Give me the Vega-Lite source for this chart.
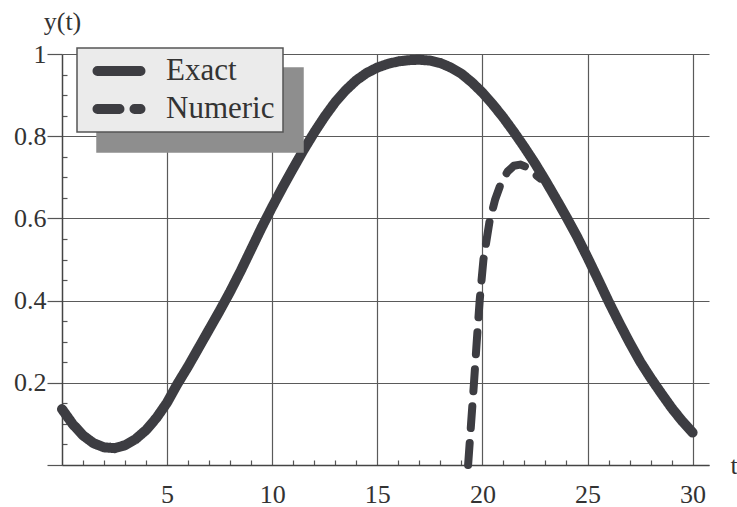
{
  "$schema": "https://vega.github.io/schema/vega-lite/v6.json",
  "width": 647,
  "height": 411,
  "autosize": {"type": "none"},
  "padding": {"left": 62, "top": 54, "right": 28, "bottom": 42},
  "background": "#ffffff",
  "config": {
    "view": {"stroke": null},
    "legend": {"strokeWidth": 1.5},
    "axis": {"labelFont": "Liberation Serif", "titleFont": "Liberation Serif"}
  },
  "datasets": {
    "curves": [
      {"t": 0, "y": 0.136, "series": "Exact"},
      {"t": 0.5, "y": 0.100, "series": "Exact"},
      {"t": 1, "y": 0.072, "series": "Exact"},
      {"t": 1.5, "y": 0.053, "series": "Exact"},
      {"t": 2, "y": 0.043, "series": "Exact"},
      {"t": 2.5, "y": 0.041, "series": "Exact"},
      {"t": 3, "y": 0.048, "series": "Exact"},
      {"t": 3.5, "y": 0.063, "series": "Exact"},
      {"t": 4, "y": 0.085, "series": "Exact"},
      {"t": 4.5, "y": 0.115, "series": "Exact"},
      {"t": 5, "y": 0.152, "series": "Exact"},
      {"t": 5.5, "y": 0.198, "series": "Exact"},
      {"t": 6, "y": 0.240, "series": "Exact"},
      {"t": 6.5, "y": 0.285, "series": "Exact"},
      {"t": 7, "y": 0.330, "series": "Exact"},
      {"t": 7.5, "y": 0.375, "series": "Exact"},
      {"t": 8, "y": 0.422, "series": "Exact"},
      {"t": 8.5, "y": 0.472, "series": "Exact"},
      {"t": 9, "y": 0.525, "series": "Exact"},
      {"t": 9.5, "y": 0.578, "series": "Exact"},
      {"t": 10, "y": 0.628, "series": "Exact"},
      {"t": 10.5, "y": 0.676, "series": "Exact"},
      {"t": 11, "y": 0.722, "series": "Exact"},
      {"t": 11.5, "y": 0.767, "series": "Exact"},
      {"t": 12, "y": 0.809, "series": "Exact"},
      {"t": 12.5, "y": 0.848, "series": "Exact"},
      {"t": 13, "y": 0.883, "series": "Exact"},
      {"t": 13.5, "y": 0.912, "series": "Exact"},
      {"t": 14, "y": 0.936, "series": "Exact"},
      {"t": 14.5, "y": 0.954, "series": "Exact"},
      {"t": 15, "y": 0.967, "series": "Exact"},
      {"t": 15.5, "y": 0.976, "series": "Exact"},
      {"t": 16, "y": 0.982, "series": "Exact"},
      {"t": 16.5, "y": 0.985, "series": "Exact"},
      {"t": 17, "y": 0.986, "series": "Exact"},
      {"t": 17.5, "y": 0.984, "series": "Exact"},
      {"t": 18, "y": 0.978, "series": "Exact"},
      {"t": 18.5, "y": 0.967, "series": "Exact"},
      {"t": 19, "y": 0.952, "series": "Exact"},
      {"t": 19.5, "y": 0.931, "series": "Exact"},
      {"t": 20, "y": 0.906, "series": "Exact"},
      {"t": 20.5, "y": 0.877, "series": "Exact"},
      {"t": 21, "y": 0.845, "series": "Exact"},
      {"t": 21.5, "y": 0.810, "series": "Exact"},
      {"t": 22, "y": 0.773, "series": "Exact"},
      {"t": 22.5, "y": 0.734, "series": "Exact"},
      {"t": 23, "y": 0.692, "series": "Exact"},
      {"t": 23.5, "y": 0.648, "series": "Exact"},
      {"t": 24, "y": 0.603, "series": "Exact"},
      {"t": 24.5, "y": 0.556, "series": "Exact"},
      {"t": 25, "y": 0.505, "series": "Exact"},
      {"t": 25.5, "y": 0.452, "series": "Exact"},
      {"t": 26, "y": 0.398, "series": "Exact"},
      {"t": 26.5, "y": 0.347, "series": "Exact"},
      {"t": 27, "y": 0.298, "series": "Exact"},
      {"t": 27.5, "y": 0.252, "series": "Exact"},
      {"t": 28, "y": 0.212, "series": "Exact"},
      {"t": 28.5, "y": 0.175, "series": "Exact"},
      {"t": 29, "y": 0.139, "series": "Exact"},
      {"t": 29.5, "y": 0.107, "series": "Exact"},
      {"t": 30, "y": 0.079, "series": "Exact"},
      {"t": 19.32, "y": 0.0, "series": "Numeric"},
      {"t": 19.46, "y": 0.1, "series": "Numeric"},
      {"t": 19.6, "y": 0.2, "series": "Numeric"},
      {"t": 19.73, "y": 0.3, "series": "Numeric"},
      {"t": 19.87, "y": 0.4, "series": "Numeric"},
      {"t": 20.05, "y": 0.5, "series": "Numeric"},
      {"t": 20.33, "y": 0.59, "series": "Numeric"},
      {"t": 20.6, "y": 0.645, "series": "Numeric"},
      {"t": 20.9, "y": 0.688, "series": "Numeric"},
      {"t": 21.2, "y": 0.714, "series": "Numeric"},
      {"t": 21.5, "y": 0.728, "series": "Numeric"},
      {"t": 21.8, "y": 0.731, "series": "Numeric"},
      {"t": 22.1, "y": 0.725, "series": "Numeric"},
      {"t": 22.4, "y": 0.712, "series": "Numeric"},
      {"t": 22.75, "y": 0.697, "series": "Numeric"}
    ]
  },
  "data": {"name": "curves"},
  "encoding": {
    "x": {
      "field": "t", "type": "quantitative",
      "scale": {"domain": [0, 30.78], "nice": false, "zero": false},
      "axis": {
        "orient": "bottom",
        "values": [1,2,3,4,5,6,7,8,9,10,11,12,13,14,15,16,17,18,19,20,21,22,23,24,25,26,27,28,29,30],
        "labelExpr": "datum.value % 5 == 0 ? datum.label : ''",
        "grid": true, "gridColor": "#5a5a5a", "gridWidth": 1.2,
        "gridOpacity": {"condition": {"test": "datum.value % 5 == 0", "value": 1}, "value": 0},
        "tickSize": {"condition": {"test": "datum.value % 5 == 0", "value": 0}, "value": -5},
        "tickColor": "#555555", "tickWidth": 1.2,
        "domainColor": "#444444", "domainWidth": 1.5,
        "labelFontSize": 26, "labelColor": "#333333", "labelPadding": 16,
        "title": "t", "titleX": 668, "titleY": 8, "titleAlign": "left", "titleBaseline": "alphabetic",
        "titleFontSize": 26, "titleFontWeight": "normal", "titleColor": "#333333"
      }
    },
    "y": {
      "field": "y", "type": "quantitative",
      "scale": {"domain": [0, 1], "nice": false},
      "axis": {
        "orient": "left",
        "values": [0,0.05,0.1,0.15,0.2,0.25,0.3,0.35,0.4,0.45,0.5,0.55,0.6,0.65,0.7,0.75,0.8,0.85,0.9,0.95,1],
        "format": "~g",
        "labelExpr": "datum.value > 0 && abs(datum.value * 5 - round(datum.value * 5)) < 0.001 ? datum.label : ''",
        "grid": true, "gridColor": "#5a5a5a", "gridWidth": 1.2,
        "gridOpacity": {"condition": {"test": "abs(datum.value * 5 - round(datum.value * 5)) < 0.001", "value": 1}, "value": 0},
        "tickSize": {"condition": {"test": "abs(datum.value * 5 - round(datum.value * 5)) < 0.001", "value": 15}, "value": -5},
        "tickColor": "#555555", "tickWidth": 1.2,
        "domainColor": "#444444", "domainWidth": 1.5,
        "labelFontSize": 26, "labelColor": "#333333", "labelPadding": 1,
        "title": "y(t)", "titleAngle": 0, "titleX": 0, "titleY": -25, "titleAlign": "center", "titleBaseline": "alphabetic",
        "titleFontSize": 26, "titleFontWeight": "normal", "titleColor": "#333333"
      }
    },
    "order": {"field": "t", "type": "quantitative"},
    "strokeDash": {
      "field": "series", "type": "nominal",
      "scale": {"range": [[1, 0], [22, 15]]},
      "legend": {
        "orient": "none", "legendX": 15, "legendY": -6, "title": null, "padding": 8, "zindex": 2,
        "fillColor": "#ebebeb", "strokeColor": "#555555",
        "symbolType": "M-2.5,0H2.5", "symbolSize": 296, "symbolStrokeWidth": 10, "symbolStrokeColor": "#3d3d42",
        "symbolOffset": 18.5, "clipHeight": 30,
        "labelFont": "Liberation Serif", "labelFontSize": 31, "labelColor": "#333333", "labelOffset": 31.5, "rowPadding": 7,
        "encode": {"symbols": {"update": {"strokeCap": {"value": "round"}, "strokeWidth": {"value": 10}}}}
      }
    }
  },
  "layer": [
    {
      "transform": [{"filter": "datum.series == 'Numeric'"}],
      "mark": {"type": "line", "color": "#3d3d42", "strokeWidth": 8, "strokeCap": "round", "strokeJoin": "round"}
    },
    {
      "transform": [{"filter": "datum.series == 'Exact'"}],
      "mark": {"type": "line", "color": "#3d3d42", "strokeWidth": 10, "strokeCap": "round", "strokeJoin": "round"},
      "encoding": {
        "opacity": {
          "field": "series", "type": "nominal",
          "scale": {"domain": ["Exact", "Numeric"], "range": [1, 1]},
          "legend": {
            "orient": "none", "legendX": 35, "legendY": 14, "title": null, "padding": 8, "zindex": 1,
            "fillColor": "#8e8e8e", "strokeColor": "#8e8e8e",
            "symbolType": "M-2.5,0H2.5", "symbolSize": 296, "symbolStrokeWidth": 10, "symbolOpacity": 0,
            "symbolStrokeColor": "#8e8e8e", "symbolFillColor": "#8e8e8e",
            "symbolOffset": 18.5, "clipHeight": 30,
            "labelFont": "Liberation Serif", "labelFontSize": 31, "labelOpacity": 0, "labelOffset": 140, "rowPadding": 7,
            "labelExpr": "'\u2003\u2003\u2003\u2002'",
            "encode": {"symbols": {"update": {"opacity": {"value": 0}, "stroke": {"value": "#8e8e8e"}}}}
          }
        }
      }
    }
  ]
}
